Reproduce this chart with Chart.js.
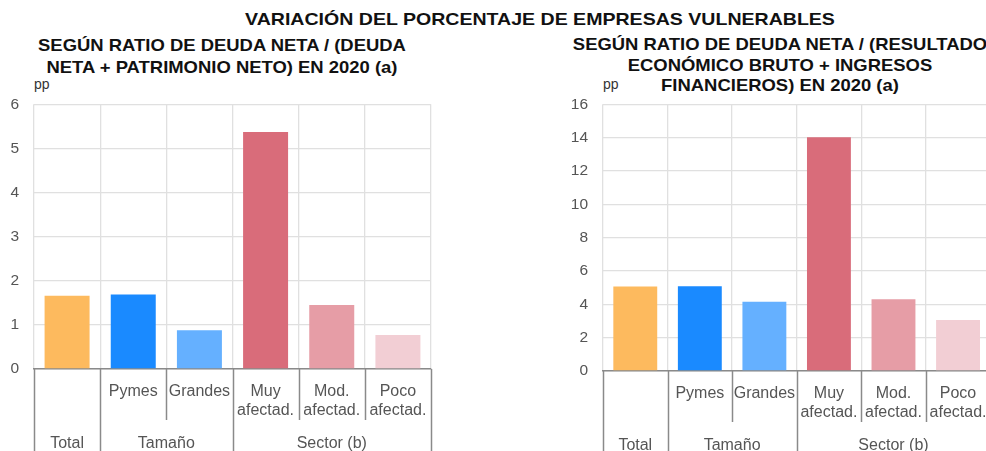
<!DOCTYPE html>
<html>
<head>
<meta charset="utf-8">
<script src="https://cdn.jsdelivr.net/npm/chart.js@4"></script>
<style>
    body { margin: 0; width: 986px; height: 451px; overflow: hidden; background: #fff; position: relative; font-family: "Liberation Sans", Arial, sans-serif; }
    .title { position: absolute; font-weight: bold; font-size: 17px; color: #111; text-align: center; white-space: nowrap; transform-origin: center top; }
    .unit { position: absolute; font-size: 14px; color: #333; }
    canvas { position: absolute; top: 80px; }
</style>
</head>
<body>
<div class="title" style="left:240px;width:600px;top:10px;transform:scaleX(1.15);">VARIACIÓN DEL PORCENTAJE DE EMPRESAS VULNERABLES</div>
<div class="title" style="left:0;width:444px;top:35px;line-height:22px;transform:scaleX(1.085);">SEGÚN RATIO DE DEUDA NETA / (DEUDA<br>NETA + PATRIMONIO NETO) EN 2020 (a)</div>
<div class="title" style="left:540px;width:480px;top:35px;line-height:20.5px;transform:scaleX(1.085);">SEGÚN RATIO DE DEUDA NETA / (RESULTADO<br>ECONÓMICO BRUTO + INGRESOS<br>FINANCIEROS) EN 2020 (a)</div>
<div class="unit" style="left:34px;top:76px;">pp</div>
<div class="unit" style="left:603px;top:76px;">pp</div>
<canvas id="chart-debt-equity" width="450" height="371" style="left:0;"></canvas>
<canvas id="chart-debt-income" width="440" height="371" style="left:560px;"></canvas>
<script>
const categories = [[''], ['Pymes'], ['Grandes'], ['Muy', 'afectad.'], ['Mod.', 'afectad.'], ['Poco', 'afectad.']];
const groupLabels = ['Total', 'Tamaño', 'Sector (b)'];
const groupSpans = [1, 2, 3];
const debtEquityValues = [1.66, 1.69, 0.88, 5.37, 1.45, 0.77];
const debtIncomeValues = [5.07, 5.09, 4.16, 14.03, 4.31, 3.06];
const barColors = ['#fdba5e', '#1a8aff', '#65b0ff', '#d96c7a', '#e69da6', '#f2ced4'];

// draws the second level of the category axis (group names + separators)
const groupAxis = {
    id: 'groupAxis',
    afterDraw(chart) {
        let ctx = chart.ctx;
        let x = chart.scales.x;
        let n = chart.data.labels.length;
        let w = x.width / n;
        let top = chart.chartArea.bottom;
        let groupEdges = [0];
        groupSpans.forEach(s => groupEdges.push(groupEdges[groupEdges.length - 1] + s));

        ctx.save();
        ctx.strokeStyle = '#8a8a8a';
        ctx.lineWidth = 1.5;
        for (let i = 0; i <= n; i++) {
            let px = Math.round(x.left + i * w) + 0.5;
            let full = groupEdges.includes(i);
            ctx.beginPath();
            ctx.moveTo(px, top);
            ctx.lineTo(px, full ? chart.height : top + 51);
            ctx.stroke();
        }
        ctx.fillStyle = '#555';
        ctx.font = '16px "Liberation Sans", Arial, sans-serif';
        ctx.textAlign = 'center';
        ctx.textBaseline = 'top';
        groupLabels.forEach((label, g) => {
            let cx = x.left + (groupEdges[g] + groupEdges[g + 1]) / 2 * w;
            ctx.fillText(label, cx, top + 67);
        });
        ctx.restore();
    },
};

function makeChart(id, values, yMax, yStep, yWidth, xHeight, padRight) {
    return new Chart(document.getElementById(id), {
        type: 'bar',
        data: {
            labels: categories,
            datasets: [{
                data: values,
                backgroundColor: barColors,
                barPercentage: 0.68,
                categoryPercentage: 1,
            }],
        },
        options: {
            responsive: false,
            animation: false,
            layout: {
                padding: { top: 15, right: padRight, left: 0, bottom: 0 },
            },
            plugins: {
                legend: { display: false },
                tooltip: { enabled: false },
            },
            scales: {
                x: {
                    grid: { color: '#e0e0e0', lineWidth: 1.3, drawTicks: false },
                    border: { color: '#8a8a8a', width: 1.5 },
                    ticks: {
                        padding: 13,
                        color: '#555',
                        maxRotation: 0,
                        autoSkip: false,
                        font: { family: '"Liberation Sans", Arial, sans-serif', size: 16 },
                    },
                    afterFit(scale) { scale.height = xHeight; },
                },
                y: {
                    min: 0,
                    max: yMax,
                    grid: { color: '#e0e0e0', lineWidth: 1.3, drawTicks: false },
                    border: { display: false },
                    ticks: {
                        stepSize: yStep,
                        padding: 15,
                        color: '#555',
                        font: { family: '"Liberation Sans", Arial, sans-serif', size: 15.5 },
                    },
                    afterFit(scale) { scale.width = yWidth; },
                },
            },
        },
        plugins: [groupAxis],
    });
}

makeChart('chart-debt-equity', debtEquityValues, 6, 1, 34, 82, 19);
makeChart('chart-debt-income', debtIncomeValues, 16, 2, 43, 80, 6);
</script>
</body>
</html>
